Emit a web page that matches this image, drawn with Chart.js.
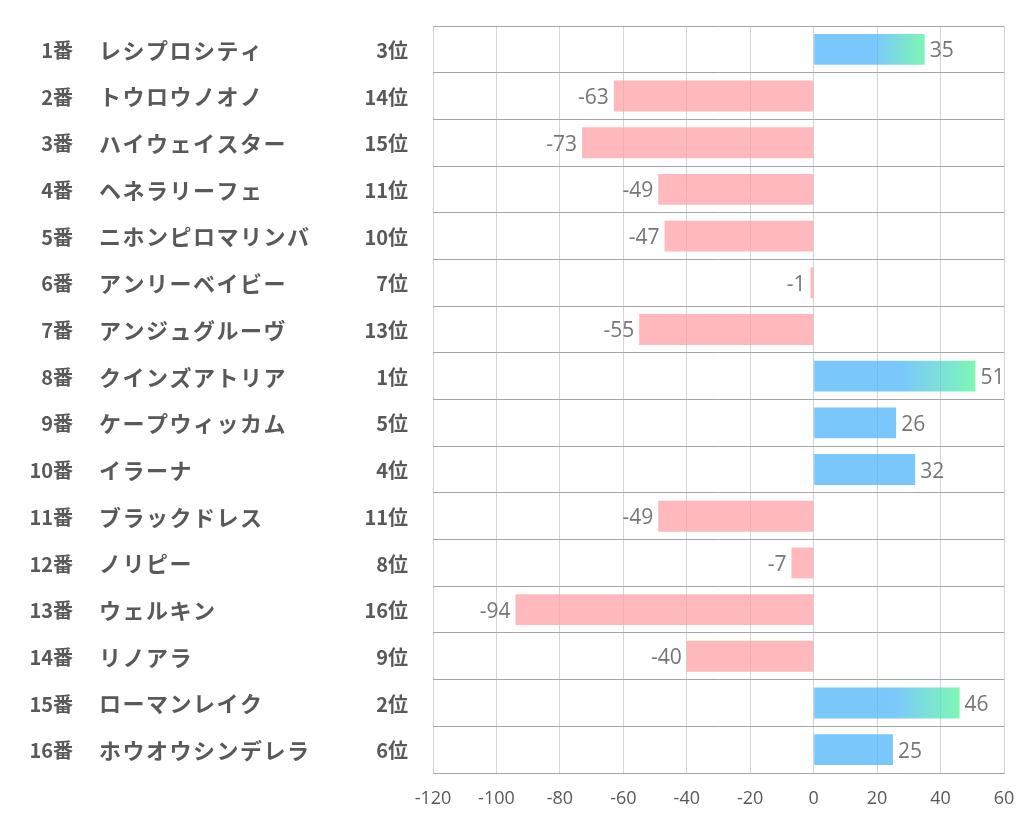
<!DOCTYPE html>
<html>
<head>
<meta charset="utf-8">
<script src="https://cdn.jsdelivr.net/npm/chart.js@4.4.1/dist/chart.umd.min.js"></script>
<style>
  html, body { margin: 0; padding: 0; background: #fff; }
  #wrap { width: 1022px; height: 834px; }
</style>
</head>
<body>
<div id="wrap"><canvas id="c" width="1022" height="834"></canvas></div>
<script>
const numbers = ['1番','2番','3番','4番','5番','6番','7番','8番','9番','10番','11番','12番','13番','14番','15番','16番'];
const names = ['レシプロシティ','トウロウノオノ','ハイウェイスター','ヘネラリーフェ','ニホンピロマリンバ','アンリーベイビー','アンジュグルーヴ','クインズアトリア','ケープウィッカム','イラーナ','ブラックドレス','ノリピー','ウェルキン','リノアラ','ローマンレイク','ホウオウシンデレラ'];
const ranks = ['3位','14位','15位','11位','10位','7位','13位','1位','5位','4位','11位','8位','16位','9位','2位','6位'];
const values = [35, -63, -73, -49, -47, -1, -55, 51, 26, 32, -49, -7, -94, -40, 46, 25];
const xTicks = [-120, -100, -80, -60, -40, -20, 0, 20, 40, 60];

const BLUE = 'rgba(78,182,250,0.75)';
const GREEN = 'rgba(82,244,156,0.75)';
const PINK = 'rgba(255,160,164,0.75)';

function barColor(ctx) {
  const i = ctx.dataIndex;
  const v = values[i];
  if (v < 0) return PINK;
  const r = parseInt(ranks[i]);
  const chart = ctx.chart;
  if (r > 3 || !chart.chartArea) return BLUE;
  const xs = chart.scales.x;
  const x0 = xs.getPixelForValue(0);
  const x1 = xs.getPixelForValue(v);
  const g = chart.ctx.createLinearGradient(x0 + (x1 - x0) * 0.55, 0, x1, 0);
  g.addColorStop(0, BLUE);
  g.addColorStop(1, GREEN);
  return g;
}

// left side columns: number / name / rank
const leftLabels = {
  id: 'leftLabels',
  afterDraw(chart) {
    const c = chart.ctx;
    const ys = chart.scales.y;
    c.save();
    c.fillStyle = '#595959';
    c.textBaseline = 'middle';
    names.forEach((n, i) => {
      const y = ys.getPixelForValue(i) + 1;
      c.font = 'bold 20px "Noto Sans CJK JP"';
      c.letterSpacing = '0px';
      c.textAlign = 'right';
      c.fillText(numbers[i], 73, y);
      c.fillText(ranks[i], 408, y);
      c.font = 'bold 22px "Noto Sans CJK JP"';
      c.letterSpacing = '1.5px';
      c.textAlign = 'left';
      c.fillText(n, 99, y);
    });
    c.restore();
  }
};

// value labels next to bars
const valueLabels = {
  id: 'valueLabels',
  afterDatasetsDraw(chart) {
    const c = chart.ctx;
    const meta = chart.getDatasetMeta(0);
    c.save();
    c.fillStyle = '#767676';
    c.font = '21px "Open Sans"';
    c.textBaseline = 'middle';
    meta.data.forEach((bar, i) => {
      const v = values[i];
      if (v >= 0) {
        c.textAlign = 'left';
        c.fillText(String(v), bar.x + 5, bar.y + 2);
      } else {
        c.textAlign = 'right';
        c.fillText(String(v), bar.x - 5, bar.y + 2);
      }
    });
    c.restore();
  }
};

new Chart(document.getElementById('c'), {
  type: 'bar',
  data: {
    labels: names,
    datasets: [{
      data: values,
      backgroundColor: barColor,
      borderWidth: 0,
      categoryPercentage: 1,
      barPercentage: 0.66
    }]
  },
  options: {
    indexAxis: 'y',
    responsive: false,
    animation: false,
    layout: { padding: { left: 433, top: 26, right: 18, bottom: 0 } },
    plugins: { legend: { display: false }, tooltip: { enabled: false } },
    scales: {
      x: {
        min: -120,
        max: 60,
        afterBuildTicks: s => { s.ticks = xTicks.map(v => ({ value: v })); },
        afterFit: s => { s.height = 61; s.paddingLeft = 0; s.paddingRight = 0; },
        grid: { color: '#d4d4d4', drawTicks: false },
        border: { display: true, color: '#a6a6a6' },
        ticks: { color: '#595959', padding: 15, font: { size: 18, family: 'Open Sans' } }
      },
      y: {
        afterFit: s => { s.width = 0; s.paddingTop = 0; s.paddingBottom = 0; },
        grid: { color: '#a6a6a6', drawTicks: false },
        border: { display: false },
        ticks: { display: false }
      }
    }
  },
  plugins: [leftLabels, valueLabels]
});
</script>
</body>
</html>
